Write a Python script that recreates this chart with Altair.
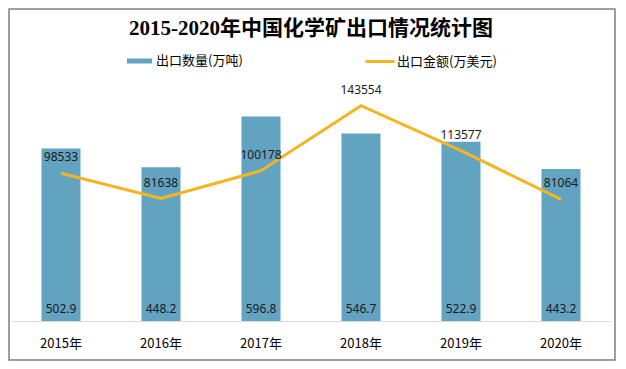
import altair as alt
import pandas as pd

years = ["2015年", "2016年", "2017年", "2018年", "2019年", "2020年"]
qty = [502.9, 448.2, 596.8, 546.7, 522.9, 443.2]
amount = [98533, 81638, 100178, 143554, 113577, 81064]

qty_name = "出口数量(万吨)"
amt_name = "出口金额(万美元)"
title_text = "2015-2020年中国化学矿出口情况统计图"

BAR = "#63a3c2"
LINE = "#f5b420"
NUM_FONT = "Noto Sans"
CJK = "Noto Sans CJK SC"

df = pd.DataFrame({"year": years, "qty": qty, "amount": amount})

x = alt.X(
    "year:N", sort=years, title=None,
    scale=alt.Scale(paddingInner=0.61, paddingOuter=0.305),
    axis=alt.Axis(labelAngle=0, ticks=False, domainColor="#d9d9d9", domainWidth=1,
                  labelFont=CJK, labelFontSize=13, labelColor="#000000", labelPadding=16),
)

base = alt.Chart(df)

bars = base.transform_calculate(s=f"'{qty_name}'").mark_bar().encode(
    x=x,
    y=alt.Y("qty:Q", scale=alt.Scale(domain=[0, 700]), axis=None),
    color=alt.Color("s:N", scale=alt.Scale(domain=[qty_name], range=[BAR]),
                    legend=alt.Legend(orient="none", legendX=116, legendY=-32.5, title=None,
                                      symbolType="M-1,-0.2H1V0.2H-1Z", symbolSize=625,
                                      symbolStrokeWidth=0, labelFont=CJK, labelFontSize=13,
                                      labelColor="#000000", labelOffset=4, padding=0)),
)

bar_labels = base.transform_calculate(zero="0").mark_text(
    font=NUM_FONT, fontSize=12, color="#1a1a1a", baseline="middle", dy=-12
).encode(
    x=x,
    y=alt.Y("zero:Q", scale=alt.Scale(domain=[0, 700]), axis=None),
    text=alt.Text("qty:Q", format=".1f"),
)

line = base.transform_calculate(s2=f"'{amt_name}'").mark_line(strokeWidth=3).encode(
    x=x,
    y=alt.Y("amount:Q", scale=alt.Scale(domain=[0, 160000]), axis=None),
    stroke=alt.Stroke("s2:N", scale=alt.Scale(domain=[amt_name], range=[LINE]),
                      legend=alt.Legend(orient="none", legendX=353, legendY=-35.5, title=None,
                                        symbolType="stroke", symbolSize=841,
                                        symbolStrokeWidth=3, labelFont=CJK, labelFontSize=13,
                                        labelColor="#000000", labelOffset=1, padding=0)),
)

line_labels = base.mark_text(
    font=NUM_FONT, fontSize=12, color="#1a1a1a", baseline="middle", dy=-16
).encode(
    x=x,
    y=alt.Y("amount:Q", scale=alt.Scale(domain=[0, 160000]), axis=None),
    text=alt.Text("amount:Q", format="d"),
)

frame = alt.Chart(pd.DataFrame({"f": [0]})).mark_rect(
    fillOpacity=0, stroke="#7f7f7f", strokeWidth=1.5
).encode(
    x=alt.value(-2), x2=alt.value(604), y=alt.value(-72), y2=alt.value(279)
)

chart = alt.layer(bars, bar_labels, line, line_labels, frame).resolve_scale(
    y="independent"
).properties(
    width=600, height=240, autosize="none",
    padding={"left": 3, "top": 73, "right": 7, "bottom": 40},
    title=alt.Title(title_text, font="Liberation Serif, Noto Sans CJK SC", fontSize=21,
                    fontWeight="bold", color="#000000", anchor="middle", offset=-48,
                    frame="group", baseline="alphabetic"),
).configure(background="white").configure_view(stroke=None)

chart.save("out.html", embed_options={"renderer": "svg", "actions": False})
